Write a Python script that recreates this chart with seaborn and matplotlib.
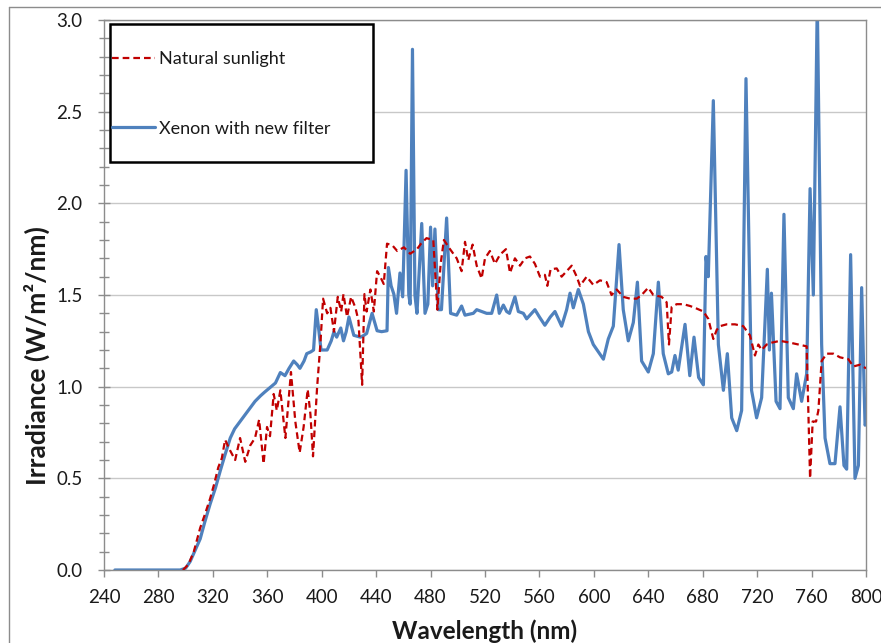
import numpy as np
import pandas as pd
import seaborn as sns
import matplotlib
matplotlib.use("Agg")
import matplotlib.pyplot as plt
from matplotlib.patches import Rectangle
from matplotlib.lines import Line2D
from matplotlib.ticker import MultipleLocator

# natural sunlight
wl_sun = [298, 302, 306, 310.7, 314, 318, 321, 324, 326.6, 329, 332.8, 336.4, 340, 343.8,
          347.5, 351, 354, 357.3, 359.8, 362, 364.7, 367, 369.6, 373.3, 377.4, 380.6, 383.8,
          386.7, 389.7, 391.7, 393.6, 396.6, 399, 401, 404, 406.4, 409, 411.8, 414.3, 416,
          418.6, 421.6, 424.8, 427, 429.7, 431.4, 433, 435.8, 438.3, 440.7, 443, 445.6, 448,
          452, 455.5, 460.4, 465, 470, 473, 477, 482, 485, 487.4, 489.8, 494.3, 499.2, 502.8,
          505.3, 507.7, 510.9, 513.9, 517.5, 520, 523.6, 527.3, 531, 535.4, 538.4, 542, 545.7,
          549.4, 553, 556.7, 560.4, 564, 565.8, 568.2, 572.7, 576.3, 580, 583.7, 587.4, 589.8,
          594.7, 599.6, 604.5, 609.4, 613, 616.8, 621.6, 626.6, 631.5, 635.1, 640, 643.7,
          649.8, 653.5, 655.2, 657.2, 660.9, 665.8, 670.7, 674.3, 680.5, 684.1, 687.8, 690.3,
          692.7, 697.6, 703.7, 709.8, 714.7, 718.4, 720.9, 723.3, 727, 730.7, 736.8, 744.2,
          750.3, 756.4, 758.9, 760.8, 763.3, 765, 767.4, 771.1, 776, 780.9, 787, 790.7, 795.6,
          800]
irr_sun = [0, 0.03, 0.10, 0.23, 0.30, 0.39, 0.47, 0.56, 0.61, 0.71, 0.65, 0.60, 0.72, 0.59,
           0.68, 0.72, 0.82, 0.58, 0.78, 0.73, 0.96, 0.87, 0.98, 0.72, 1.08, 0.81, 0.64,
           0.78, 0.985, 0.85, 0.62, 0.995, 1.23, 1.48, 1.40, 1.43, 1.30, 1.49, 1.41, 1.505,
           1.38, 1.49, 1.43, 1.36, 1.01, 1.505, 1.41, 1.53, 1.41, 1.63, 1.60, 1.56, 1.78,
           1.77, 1.74, 1.76, 1.725, 1.75, 1.78, 1.81, 1.80, 1.42, 1.67, 1.80, 1.75, 1.70, 1.63,
           1.79, 1.69, 1.775, 1.66, 1.59, 1.70, 1.74, 1.67, 1.72, 1.75, 1.62, 1.70, 1.66,
           1.70, 1.71, 1.67, 1.60, 1.61, 1.55, 1.64, 1.645, 1.60, 1.63, 1.66, 1.60, 1.55,
           1.60, 1.555, 1.58, 1.57, 1.50, 1.53, 1.49, 1.48, 1.48, 1.50, 1.54, 1.50,
           1.49, 1.46, 1.23, 1.435, 1.45, 1.45, 1.44, 1.43, 1.41, 1.37, 1.26, 1.31,
           1.33, 1.34, 1.34, 1.33, 1.28, 1.17, 1.23, 1.20, 1.23, 1.24, 1.25, 1.24,
           1.23, 1.22, 0.50, 0.81, 0.81, 0.87, 1.14, 1.18, 1.18, 1.16, 1.15, 1.11, 1.12,
           1.10]

# xenon lamp with the new filter
wl_xe = [248, 296, 300, 303.3, 306.5, 310.7, 314, 318, 322, 325.4, 329, 332.8, 336, 340, 344,
         347.5, 351, 355, 358, 362, 366, 369.6, 373, 376, 379.4, 382, 384, 387, 389, 392,
         394, 396, 398, 399.5, 404, 407, 409, 411, 414, 416, 418, 420, 423.6, 428.5, 431,
         433, 437, 440.7, 444, 448, 449, 451, 453, 455, 457.5, 459.5, 462, 464, 465, 466.7,
         468.5, 470, 471.6, 473.5, 475.9, 478, 480, 481.5, 483.2, 485.7, 488, 491.8, 494.7,
         499.2, 502.8, 505.3, 511.4, 513.9, 517.5, 521.2, 524.9, 528.6, 530.5, 533.5, 535.9,
         538, 542, 544.5, 548.2, 550.6, 556.7, 560, 564, 568, 571.4, 576.3, 580, 582.5, 584.9,
         588.6, 592.3, 596, 599.6, 603.3, 607, 610.6, 614.3, 618.5, 621.6, 625.3, 629, 632,
         635.1, 640, 643.7, 647.4, 651, 654.7, 657.2, 659.6, 662, 667, 670.5, 673.6, 677,
         680.5, 682.4, 684.1, 687.8, 691.5, 695.2, 698.1, 701.3, 705, 708.6, 711.8, 715.9,
         719.6, 723.3, 727.5, 729, 730.5, 733.9, 736.8, 739.7, 742.9, 746.6, 749, 752.7,
         756.4, 758.9, 761.3, 764.2, 767.4, 769.9, 773.5, 777.2, 780.9, 783.8, 785.8, 788.7,
         791.9, 794.4, 796.8, 799.3, 800]
irr_xe = [0, 0, 0.01, 0.046, 0.10, 0.17, 0.26, 0.36, 0.45, 0.54, 0.63, 0.72, 0.77, 0.81, 0.85,
          0.885, 0.92, 0.95, 0.97, 0.995, 1.02, 1.077, 1.06, 1.10, 1.14, 1.12, 1.10, 1.14, 1.18,
          1.19, 1.20, 1.42, 1.30, 1.20, 1.20, 1.25, 1.30, 1.27, 1.32, 1.25, 1.30, 1.38, 1.28,
          1.27, 1.28, 1.29, 1.40, 1.305, 1.30, 1.305, 1.65, 1.55, 1.505, 1.40, 1.62, 1.49,
          2.18, 1.50, 1.45, 2.84, 1.50, 1.40, 1.62, 1.89, 1.40, 1.45, 1.87, 1.55, 1.86, 1.42,
          1.42, 1.92, 1.40, 1.39, 1.44, 1.39, 1.40, 1.42, 1.41, 1.40, 1.40, 1.50, 1.40, 1.445,
          1.41, 1.40, 1.49, 1.41, 1.40, 1.37, 1.42, 1.38, 1.335, 1.38, 1.41, 1.33, 1.42, 1.51,
          1.43, 1.53, 1.45, 1.30, 1.23, 1.19, 1.15, 1.26, 1.33, 1.775, 1.42, 1.25, 1.35, 1.57,
          1.14, 1.08, 1.18, 1.57, 1.18, 1.07, 1.08, 1.17, 1.09, 1.34, 1.06, 1.27, 1.05,
          1.01, 1.71, 1.60, 2.56, 1.23, 0.98, 1.18, 0.83, 0.76, 0.87, 2.68, 0.98,
          0.83, 0.94, 1.64, 1.20, 1.51, 0.92, 0.88, 1.94, 0.94, 0.88, 1.07, 0.92,
          1.07, 2.08, 1.50, 3.1, 1.23, 0.72, 0.58, 0.58, 0.89, 0.57, 0.55, 1.72,
          0.50, 0.57, 1.54, 0.79, 0.80]

sun = pd.DataFrame({"wl": wl_sun, "irr": irr_sun})
xe = pd.DataFrame({"wl": wl_xe, "irr": irr_xe})

sns.set_style("white")
plt.rcParams["font.family"] = ["Lato", "DejaVu Sans"]

fig = plt.figure(figsize=(8.81, 6.43), dpi=100)
ax = fig.add_axes([104 / 881, 73 / 643, 762 / 881, 550 / 643])

sns.lineplot(data=sun, x="wl", y="irr", ax=ax, color="#C00000", linewidth=1.6,
             label="Natural sunlight", estimator=None, sort=False)
sns.lineplot(data=xe, x="wl", y="irr", ax=ax, color="#4F81BD", linewidth=2.3,
             label="Xenon with new filter", estimator=None, sort=False)
ax.lines[0].set_linestyle((0, (3, 1.8)))
ax.lines[0].set_zorder(3)
ax.lines[1].set_zorder(2)

ax.set_xlim(240, 800)
ax.set_ylim(0, 3.0)
ax.set_xticks(np.arange(240, 801, 40))
ax.yaxis.set_major_locator(MultipleLocator(0.5))
ax.yaxis.set_minor_locator(MultipleLocator(0.1))
ax.yaxis.set_major_formatter(matplotlib.ticker.FormatStrFormatter("%.1f"))

ax.grid(axis="y", which="major", color="#C8C8C8", linewidth=1)
ax.set_axisbelow(True)
for s in ax.spines.values():
    s.set_color("#8C8C8C")
    s.set_linewidth(1)

ax.tick_params(axis="x", direction="out", length=5, width=1, color="#8C8C8C",
               labelsize=13.5, labelcolor="#1a1a1a", pad=9, bottom=True)
ax.tick_params(axis="y", which="major", direction="inout", length=9, width=1,
               color="#8C8C8C", labelsize=13.5, labelcolor="#1a1a1a", pad=11, left=True)
ax.tick_params(axis="y", which="minor", direction="inout", length=7, width=1,
               color="#8C8C8C", left=True)

ax.set_xlabel("Wavelength (nm)", fontsize=17.5, fontweight="bold", color="#1a1a1a")
ax.set_ylabel("Irradiance (W/m²/nm)", fontsize=19, fontweight="bold", color="#1a1a1a")
ax.xaxis.set_label_coords(0.5, -0.089)
ax.yaxis.set_label_coords(-0.071, 0.39)

# legend box
box = Rectangle((0.008, 0.742), 0.345, 0.251, transform=ax.transAxes, facecolor="white",
                edgecolor="black", linewidth=1.8, zorder=5)
ax.add_patch(box)
leg = ax.legend(loc="upper left", bbox_to_anchor=(0.010, 0.943), frameon=False,
                fontsize=13, labelspacing=2.95, handlelength=2.4, handletextpad=0.2,
                borderpad=0, borderaxespad=0)
leg.set_zorder(6)
for t in leg.get_texts():
    t.set_color("#1a1a1a")

# outer chart border
fig.add_artist(Line2D([9 / 881, 9 / 881], [0, 1 - 7 / 643], transform=fig.transFigure,
                      color="#8C8C8C", linewidth=1))
fig.add_artist(Line2D([9 / 881, 1], [1 - 7 / 643, 1 - 7 / 643], transform=fig.transFigure,
                      color="#8C8C8C", linewidth=1))

fig.savefig("out.png", dpi=100)
